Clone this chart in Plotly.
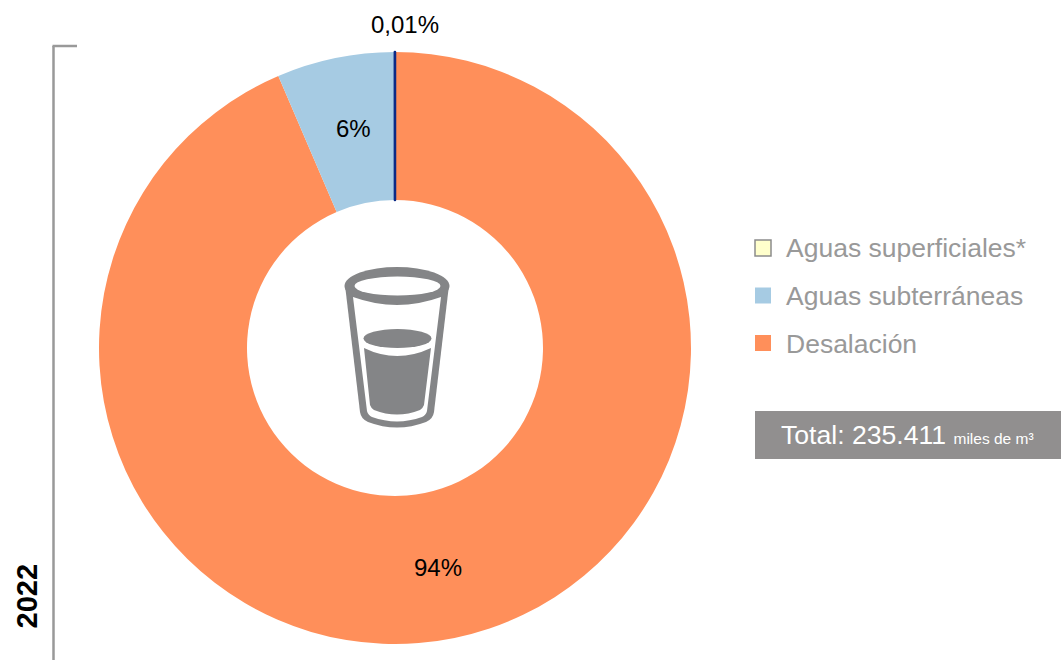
import plotly.graph_objects as go

W, H = 1061, 660
FONT = "Liberation Sans, Arial, sans-serif"

# Data (percent of the total; order runs clockwise from 12 o'clock)
sources = ["Desalación", "Aguas subterráneas", "Aguas superficiales*"]
shares = [93.55, 6.44, 0.01]
share_labels = ["94%", "6%", "0,01%"]
slice_colors = ["#FF8F5A", "#A6CBE3", "#FFFFCC"]
line_colors = ["#FF8F5A", "#A6CBE3", "#0B2A86"]
line_widths = [0, 0, 2.5]
label_pixels = [(438, 567), (353, 128), (405, 24)]
year_label = "2022"
total_value = "235.411"
total_unit = "miles de m³"


def fx(x):
    return x / W


def fy(y):
    return 1 - y / H


def path(*cmds):
    """Build a paper-referenced SVG path from pixel-placed commands."""
    out = []
    for c in cmds:
        if isinstance(c, str):
            out.append(c)
        else:
            out.append(f"{fx(c[0]):.5f},{fy(c[1]):.5f}")
    return " ".join(out)


def ell(cx, cy, rx, ry, color):
    return dict(type="circle", xref="paper", yref="paper",
                x0=fx(cx - rx), x1=fx(cx + rx), y0=fy(cy + ry), y1=fy(cy - ry),
                fillcolor=color, line_width=0)


def fill(p, color):
    return dict(type="path", xref="paper", yref="paper", path=p,
                fillcolor=color, line_width=0)


GLASS = "#848587"
shapes = [
    # Bracket
    dict(type="line", xref="paper", yref="paper", x0=fx(53.5), x1=fx(53.5), y0=fy(46), y1=fy(660),
         line=dict(color="#999999", width=2.5)),
    dict(type="line", xref="paper", yref="paper", x0=fx(52.5), x1=fx(77), y0=fy(46), y1=fy(46),
         line=dict(color="#999999", width=2.5)),
    # Glass outline
    fill(path("M", (345, 285), "L", (360, 412), "Q", (361, 419), (368, 422),
              "Q", (397, 433), (426, 422), "Q", (433, 419), (434, 412),
              "L", (449, 285), "Z"), GLASS),
    ell(397, 286, 52.5, 19, GLASS),
    # Glass interior
    fill(path("M", (353, 297), "L", (367, 411), "Q", (368, 415), (372, 417),
              "Q", (397, 426), (422, 417), "Q", (426, 415), (427, 411),
              "L", (441, 297), "Q", (397, 313), (353, 297), "Z"), "#FFFFFF"),
    ell(397.5, 286, 43, 9.5, "#FFFFFF"),
    # Water
    fill(path("M", (364, 348), "L", (370, 405), "Q", (371, 408), (374, 410),
              "Q", (397, 419), (420, 410), "Q", (423, 408), (424, 405),
              "L", (431, 348), "Q", (397, 364), (364, 348), "Z"), GLASS),
    ell(397.5, 338.5, 34, 9.5, GLASS),
    # Total box
    dict(type="rect", xref="paper", yref="paper", x0=fx(755), x1=fx(1061), y0=fy(459), y1=fy(411),
         fillcolor="#918F8F", line_width=0),
]

annotations = []
# Custom legend, listed top to bottom
for i, idx in enumerate([2, 1, 0]):
    yc = 248 + i * 47.5
    shapes.append(dict(type="rect", xref="paper", yref="paper",
                       x0=fx(755), x1=fx(771), y0=fy(yc + 8), y1=fy(yc - 8),
                       fillcolor=slice_colors[idx],
                       line=dict(color="#8C8C8C", width=1.5) if i == 0 else dict(width=0)))
    annotations.append(dict(xref="paper", yref="paper", x=fx(783.5), y=fy(yc + 0.5),
                            xanchor="left", yanchor="middle", showarrow=False, text=sources[idx],
                            font=dict(family=FONT, size=26.5, color="#999999")))

for text, (px, py) in zip(share_labels, label_pixels):
    annotations.append(dict(xref="paper", yref="paper", x=fx(px), y=fy(py),
                            xanchor="center", yanchor="middle", showarrow=False, text=text,
                            font=dict(family=FONT, size=24, color="#000000")))

annotations.append(dict(xref="paper", yref="paper", x=fx(779), y=fy(435),
                        xanchor="left", yanchor="middle", showarrow=False,
                        text=f"Total: {total_value} <span style='font-size:15.5px'>{total_unit}</span>",
                        font=dict(family=FONT, size=26.6, color="#FFFFFF")))
annotations.append(dict(xref="paper", yref="paper", x=fx(26), y=fy(596.5),
                        xanchor="center", yanchor="middle", showarrow=False, textangle=-90,
                        text=f"<b>{year_label}</b>",
                        font=dict(family=FONT, size=29, color="#000000")))

fig = go.Figure(go.Pie(
    labels=sources,
    values=shares,
    textinfo="none",
    sort=False,
    direction="clockwise",
    rotation=0,
    hole=0.5,
    marker=dict(colors=slice_colors, line=dict(color=line_colors, width=line_widths)),
    domain=dict(x=[fx(395 - 296), fx(395 + 296)], y=[fy(348 + 296), fy(348 - 296)]),
    showlegend=False,
))

fig.update_layout(
    width=W, height=H,
    margin=dict(l=0, r=0, t=0, b=0),
    paper_bgcolor="#FFFFFF",
    plot_bgcolor="#FFFFFF",
    shapes=shapes,
    annotations=annotations,
    showlegend=False,
)

fig.write_html("out.html", config=dict(displayModeBar=False),
               post_script="document.body.style.margin='0';")
